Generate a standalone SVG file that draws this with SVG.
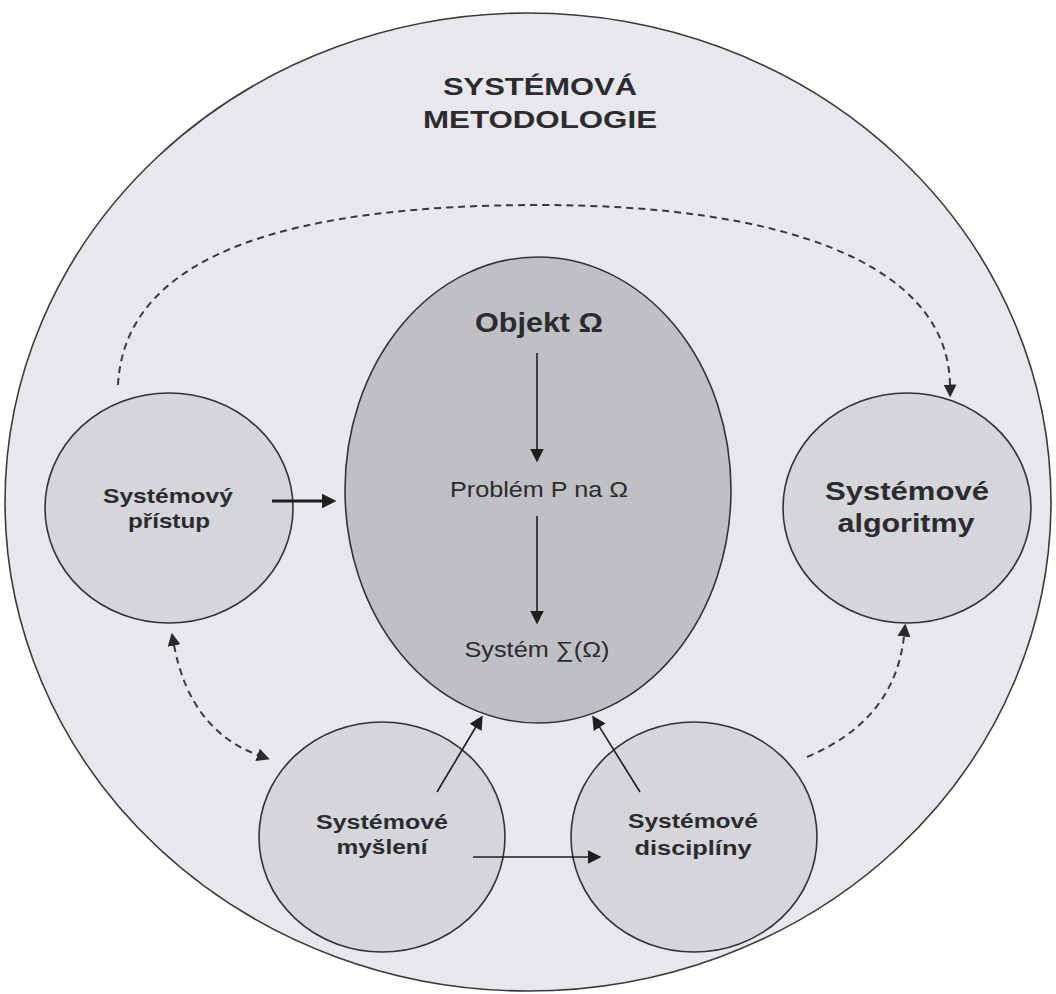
<svg xmlns="http://www.w3.org/2000/svg" width="1056" height="994" viewBox="0 0 1056 994">
  <style>
    .outer { fill: #e8e8ec; stroke: #3a3a3a; stroke-width: 1.6; }
    .core { fill: #bfc0c3; stroke: #333333; stroke-width: 1.6; }
    .sub { fill: #d5d6d9; stroke: #333333; stroke-width: 1.6; }
    .t { font-family: "Liberation Sans", Arial, sans-serif; fill: #2b2b30; text-anchor: middle; }
    .b { font-weight: bold; }
    .solid { fill: none; stroke: #1e1e1e; stroke-width: 1.6; }
    .thick { fill: none; stroke: #1e1e1e; stroke-width: 3.2; }
    .dash { fill: none; stroke: #3a3a3a; stroke-width: 2; stroke-dasharray: 7 5; }
  </style>
  <defs>
    <marker id="ah" viewBox="0 0 14 14" refX="0.5" refY="7" markerWidth="14" markerHeight="14" orient="auto" markerUnits="userSpaceOnUse">
      <path d="M0,0 L14,7 L0,14 z" fill="#1e1e1e"/>
    </marker>
    <marker id="ahL" viewBox="0 0 15 15" refX="0.5" refY="7.5" markerWidth="15" markerHeight="15" orient="auto" markerUnits="userSpaceOnUse">
      <path d="M0,0 L15,7.5 L0,15 z" fill="#1e1e1e"/>
    </marker>
    <marker id="ahD" viewBox="0 0 13 13" refX="0.5" refY="6.5" markerWidth="13" markerHeight="13" orient="auto-start-reverse" markerUnits="userSpaceOnUse">
      <path d="M0,0 L13,6.5 L0,13 z" fill="#2a2a2a"/>
    </marker>
  </defs>

  <rect width="1056" height="994" fill="#ffffff"/>

  <g id="systemova-metodologie">
    <ellipse class="outer" cx="528" cy="502" rx="523" ry="489"/>
    <text class="t b" x="540" y="95" font-size="24" textLength="194" lengthAdjust="spacingAndGlyphs">SYSTÉMOVÁ</text>
    <text class="t b" x="540" y="128" font-size="24" textLength="234" lengthAdjust="spacingAndGlyphs">METODOLOGIE</text>
  </g>

  <g id="objekt">
    <ellipse class="core" cx="538" cy="490" rx="193" ry="233"/>
    <text class="t b" x="539" y="332" font-size="28" textLength="128" lengthAdjust="spacingAndGlyphs">Objekt Ω</text>
    <text class="t" x="539" y="497" font-size="22" textLength="178" lengthAdjust="spacingAndGlyphs">Problém P na Ω</text>
    <text class="t" x="537" y="657" font-size="22" textLength="145" lengthAdjust="spacingAndGlyphs">Systém ∑(Ω)</text>
  </g>

  <g id="systemovy-pristup">
    <ellipse class="sub" cx="169" cy="508" rx="124" ry="115"/>
    <text class="t b" x="168" y="503" font-size="21" textLength="130" lengthAdjust="spacingAndGlyphs">Systémový</text>
    <text class="t b" x="169" y="528" font-size="21" textLength="82" lengthAdjust="spacingAndGlyphs">přístup</text>
  </g>

  <g id="systemove-algoritmy">
    <ellipse class="sub" cx="907" cy="508" rx="124" ry="115"/>
    <text class="t b" x="907" y="500" font-size="25" textLength="164" lengthAdjust="spacingAndGlyphs">Systémové</text>
    <text class="t b" x="906" y="532" font-size="25" textLength="137" lengthAdjust="spacingAndGlyphs">algoritmy</text>
  </g>

  <g id="systemove-mysleni">
    <ellipse class="sub" cx="382" cy="837" rx="123" ry="115"/>
    <text class="t b" x="382" y="829" font-size="20" textLength="132" lengthAdjust="spacingAndGlyphs">Systémové</text>
    <text class="t b" x="382" y="854" font-size="20" textLength="91" lengthAdjust="spacingAndGlyphs">myšlení</text>
  </g>

  <g id="systemove-discipliny">
    <ellipse class="sub" cx="694" cy="837" rx="123" ry="115"/>
    <text class="t b" x="693" y="828" font-size="20" textLength="130" lengthAdjust="spacingAndGlyphs">Systémové</text>
    <text class="t b" x="693" y="855" font-size="20" textLength="117" lengthAdjust="spacingAndGlyphs">disciplíny</text>
  </g>

  <g id="connectors">
    <line class="solid" x1="537" y1="353" x2="537" y2="449" marker-end="url(#ah)"/>
    <line class="solid" x1="537" y1="516" x2="537" y2="611" marker-end="url(#ah)"/>
    <line class="thick" x1="272" y1="501" x2="322" y2="501" marker-end="url(#ahL)"/>
    <line class="solid" x1="437" y1="792" x2="475.8" y2="727" marker-end="url(#ah)"/>
    <line class="solid" x1="640" y1="792" x2="599.4" y2="726.9" marker-end="url(#ah)"/>
    <line class="solid" x1="473" y1="857" x2="588" y2="857" marker-end="url(#ah)"/>
    <path class="dash" d="M118,385 C125,250 300,205 540,205 C780,205 948,262 950,385" marker-end="url(#ahD)"/>
    <path class="dash" d="M174,645 Q190,730 258,755" marker-start="url(#ahD)" marker-end="url(#ahD)"/>
    <path class="dash" d="M807,757 Q895,720 904,636" marker-end="url(#ahD)"/>
  </g>
</svg>
